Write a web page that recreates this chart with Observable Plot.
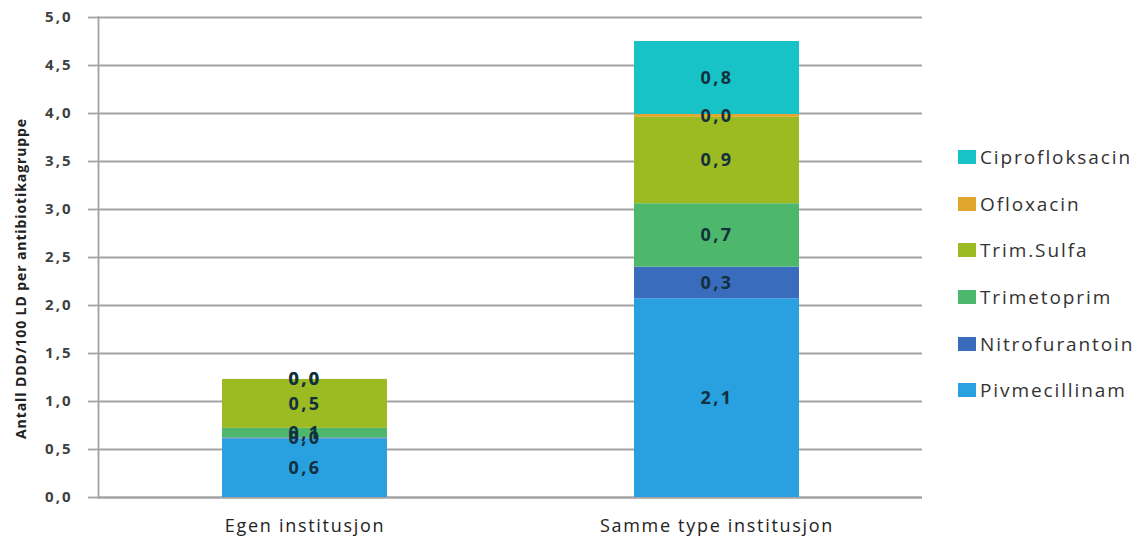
<!DOCTYPE html>
<html>
<head>
<meta charset="utf-8">
<script src="https://cdn.jsdelivr.net/npm/d3@7"></script>
<script src="https://cdn.jsdelivr.net/npm/@observablehq/plot@0.6"></script>
<style>
  html, body { margin: 0; padding: 0; background: #fff; }
  #wrap { position: relative; width: 1146px; height: 540px; font-family: "Open Sans", Lato, sans-serif; }
  #legend { position: absolute; left: 958px; top: 145px; }
  .item { display: flex; align-items: center; height: 24px; margin-bottom: 22.7px; font-size: 19px; letter-spacing: 1.9px; color: #333; }
  .sw { width: 18px; height: 14px; margin-right: 4px; }
  #chart g[aria-label="x-axis tick label"] text { letter-spacing: 1.7px; }
  #chart g[aria-label="y-axis tick label"] text { letter-spacing: 2px; }
</style>
</head>
<body>
<div id="wrap"><div id="chart"></div><div id="legend"></div></div>
<script>
const categories = ["Egen institusjon", "Samme type institusjon"];
const series = ["Pivmecillinam", "Nitrofurantoin", "Trimetoprim", "Trim.Sulfa", "Ofloxacin", "Ciprofloksacin"];
const colors = ["#29a0e0", "#3a6cbd", "#4db86c", "#9cbb23", "#e0a62e", "#17c3c6"];
const egenValues = [0.61, 0.01, 0.10, 0.51, 0.00, 0.00];
const sammeValues = [2.07, 0.33, 0.66, 0.90, 0.03, 0.76];
const yTicks = [0, 0.5, 1, 1.5, 2, 2.5, 3, 3.5, 4, 4.5, 5];
const legendOrder = ["Ciprofloksacin", "Ofloxacin", "Trim.Sulfa", "Trimetoprim", "Nitrofurantoin", "Pivmecillinam"];
const yLabel = "Antall DDD/100 LD per antibiotikagruppe";

const data = [];
series.forEach((s, i) => data.push({cat: categories[0], series: s, value: egenValues[i]}));
series.forEach((s, i) => data.push({cat: categories[1], series: s, value: sammeValues[i]}));

const fmt = d => d.toFixed(1).replace(".", ",");

const chart = Plot.plot({
  width: 1146,
  height: 540,
  marginLeft: 98,
  marginRight: 224,
  marginTop: 17,
  marginBottom: 43,
  style: {fontFamily: "'Open Sans', Lato, sans-serif", background: "#fff"},
  x: {domain: categories, paddingInner: 0.6, paddingOuter: 0.3, label: null},
  y: {domain: [0, 5], label: null},
  color: {domain: series, range: colors},
  marks: [
    Plot.gridY(yTicks, {stroke: "#a3a3a3", strokeOpacity: 1, strokeWidth: 1.8}),
    Plot.axisY(yTicks, {tickSize: 10, tickPadding: 16, stroke: "#a3a3a3", strokeWidth: 1.8, tickFormat: fmt,
      fontSize: 15, fontWeight: "bold", fill: "#404040", label: null}),
    Plot.text([yLabel], {frameAnchor: "left", dx: -77, dy: 21, rotate: -90,
      fontSize: 14, fontWeight: "bold", fill: "#222", textAnchor: "middle"}),
    Plot.axisX({tickSize: 0, tickPadding: 22, fontSize: 18, fill: "#222", label: null}),
    Plot.frame({anchor: "left", stroke: "#a3a3a3", strokeWidth: 1.8}),
    Plot.ruleY([0], {stroke: "#a3a3a3", strokeWidth: 1.8}),
    Plot.barY(data, {x: "cat", y: "value", fill: "series"}),
    Plot.text(data, Plot.stackY({x: "cat", y: "value", z: "series", text: d => fmt(d.value),
      fontSize: 18, fontWeight: "bold", fill: "#13303d"}))
  ]
});
document.getElementById("chart").appendChild(chart);

// letter spacing to mimic the reference's wide glyphs
const valueLabels = new Set(data.map(d => fmt(d.value)));
chart.querySelectorAll("text").forEach(t => {
  const p = t.parentNode && t.parentNode.getAttribute ? t.parentNode.getAttribute("aria-label") : null;
  if (p && p.includes("axis")) return;
  if (t.textContent === yLabel) t.style.letterSpacing = "0.9px";
  else if (valueLabels.has(t.textContent)) t.style.letterSpacing = "2.5px";
});

const legend = document.getElementById("legend");
legendOrder.forEach(s => {
  const it = document.createElement("div");
  it.className = "item";
  const sw = document.createElement("div");
  sw.className = "sw";
  sw.style.background = colors[series.indexOf(s)];
  const tx = document.createElement("span");
  tx.textContent = s;
  it.appendChild(sw);
  it.appendChild(tx);
  legend.appendChild(it);
});
</script>
</body>
</html>
